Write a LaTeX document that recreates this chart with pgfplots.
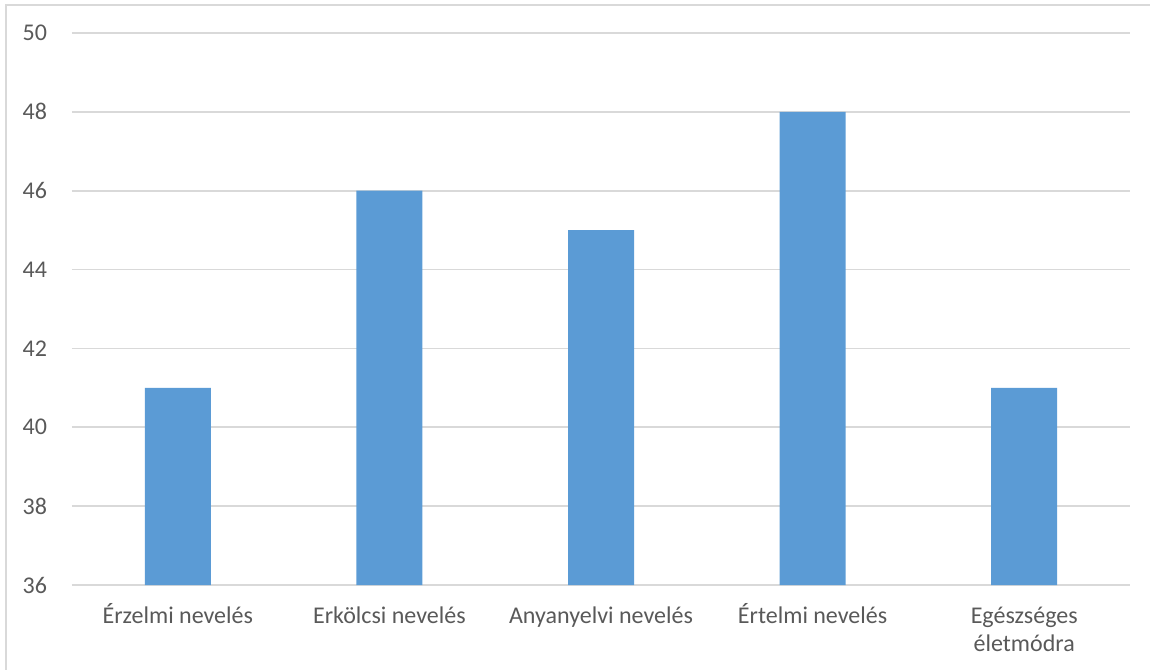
\documentclass[border=0pt]{standalone}
\usepackage{fontspec}
\setmainfont{Carlito}
\usepackage{pgfplots}
\pgfplotsset{compat=1.18}
\definecolor{barblue}{HTML}{5B9BD5}
\definecolor{gridgray}{HTML}{D9D9D9}
\definecolor{txtgray}{HTML}{595959}
\begin{document}
\begin{tikzpicture}[x=1pt,y=1pt]
\useasboundingbox (0,0) rectangle (575,334.5);
\draw[gridgray, line width=1pt] (3,-5) -- (3,332) -- (580,332);
\begin{axis}[
  at={(36pt,42pt)}, anchor=south west,
  scale only axis, width=529pt, height=276pt,
  xmin=-0.5, xmax=4.5, ymin=36, ymax=50,
  ytick={36,38,...,50}, xtick={0,1,2,3,4},
  xticklabels={Érzelmi nevelés, Erkölcsi nevelés, Anyanyelvi nevelés, Értelmi nevelés, {\begin{tabular}[t]{@{}c@{}}Egészséges\\életmódra\end{tabular}}},
  xticklabel style={font=\fontsize{12}{14}\selectfont, text=txtgray, anchor=base, yshift=-19pt},
  yticklabel style={font=\fontsize{12}{15}\selectfont, text=txtgray, xshift=-9pt},
  /pgf/number format/assume math mode=true,
  axis line style={draw=none},
  major tick length=0pt,
  ymajorgrids,
  grid style={gridgray, line width=0.8pt},
  ybar, bar width=33pt,
]
\addplot[fill=barblue, draw=none] coordinates {(0,41) (1,46) (2,45) (3,48) (4,41)};
\end{axis}
\end{tikzpicture}
\end{document}
